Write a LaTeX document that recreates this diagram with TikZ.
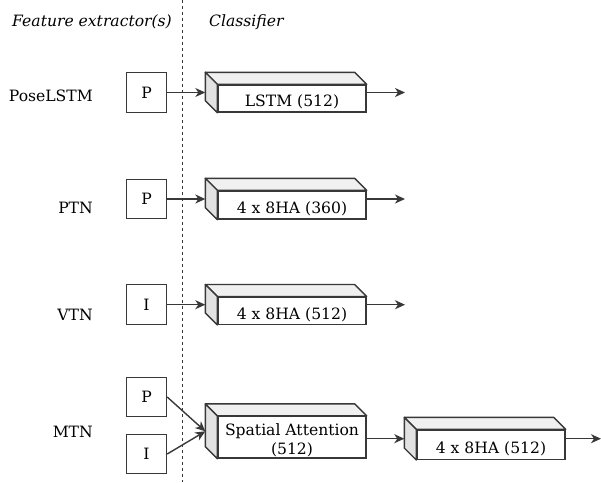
\documentclass[tikz,border=0pt]{standalone}
\usepackage{fontspec}
\setmainfont{DejaVu Serif}
\usetikzlibrary{arrows.meta,calc}
\definecolor{strk}{HTML}{383838}
\definecolor{topc}{HTML}{F0F0F0}
\definecolor{sidec}{HTML}{E2E2E2}
\tikzset{
  lbl/.style={inner sep=0pt, font=\fontsize{15.6}{19.7}\selectfont},
  fbox/.style={draw=strk, line width=1.4pt, fill=white, minimum width=40pt, minimum height=39.5pt, inner sep=0pt, font=\fontsize{15.6}{19.7}\selectfont},
  cfront/.style={draw=strk, line width=1.4pt, fill=white, minimum width=148pt, inner sep=0pt, font=\fontsize{15.6}{19.7}\selectfont},
  ctext/.style={text height=16.7pt, text depth=0pt},
  topface/.style={draw=strk, line width=1.4pt, fill=topc, line join=round},
  sideface/.style={draw=strk, line width=1.4pt, fill=sidec, line join=round},
  arr/.style={draw=strk, line width=1.4pt, -{Stealth[length=10pt,width=9pt,inset=3pt]}},
}
\newcommand{\cubeof}[1]{%
  \filldraw[topface] (#1.north west) -- ++(-12,-12) -- ($(#1.north east)+(-12,-12)$) -- (#1.north east) -- cycle;
  \filldraw[sideface] (#1.north west) -- ++(-12,-12) -- ($(#1.south west)+(-12,-12)$) -- (#1.south west) -- cycle;
  \coordinate (#1in) at ($(#1.west)+(-12,-6)$);
  \coordinate (#1out) at ($(#1.east)+(0,-6)$);
}
\begin{document}
\begin{tikzpicture}[x=1pt,y=-1pt]
\useasboundingbox (0,0) rectangle (601,482);

% headers
\node[lbl, anchor=base east, font=\fontsize{15.6}{19.7}\selectfont\itshape] (hfe) at (172,26.7) {Feature extractor(s)};
\node[lbl, anchor=base west, font=\fontsize{15.6}{19.7}\selectfont\itshape] (hcl) at (209,26.7) {Classifier};

% divider
\coordinate (dtop) at (182,0);
\coordinate (dbot) at (182,482);
\draw[strk, line width=0.9pt, dash pattern=on 3pt off 3pt] (dtop) -- (dbot);

% row labels
\node[lbl, anchor=base east] (l1) at (93,101) {PoseLSTM};
\node[lbl, anchor=base east] (l2) at (93,213) {PTN};
\node[lbl, anchor=base east] (l3) at (93,320) {VTN};
\node[lbl, anchor=base east] (l4) at (93,437.3) {MTN};

% feature boxes
\node[fbox] (p1) at (146.5,92.5) {P};
\node[fbox] (p2) at (146.5,199) {P};
\node[fbox] (i3) at (146.5,304.5) {I};
\node[fbox] (p4) at (146.5,397) {P};
\node[fbox] (i4) at (146.5,454) {I};

% cuboids
\node[cfront, ctext, minimum height=27pt] (ca) at (292,98.5) {LSTM (512)};
\cubeof{ca}
\node[cfront, ctext, minimum height=28pt] (cb) at (292,205) {4 x 8HA (360)};
\cubeof{cb}
\node[cfront, ctext, minimum height=27pt] (cc) at (292,310.7) {4 x 8HA (512)};
\cubeof{cc}
\node[cfront, minimum height=41.5pt, align=center] (cd) at (292,437.3) {\rule{0pt}{18pt}Spatial Attention\\(512)};
\cubeof{cd}
\node[cfront, ctext, minimum height=29.3pt] (ce) at (491,444.7) {4 x 8HA (512)};
\cubeof{ce}

% end points of outputs
\coordinate (oa) at (405,92.5);
\coordinate (ob) at (405,199);
\coordinate (oc) at (405,304.7);
\coordinate (oe) at (601,438.7);

% connectors
\draw[arr] (p1.east |- cain) -- (cain);
\draw[arr] (caout) -- (oa);
\draw[arr] (p2.east |- cbin) -- (cbin);
\draw[arr] (cbout) -- (ob);
\draw[arr] (i3.east |- ccin) -- (ccin);
\draw[arr] (ccout) -- (oc);
\draw[arr] (p4.east) -- (cdin);
\draw[arr] (i4.east) -- (cdin);
\draw[arr] (cd.east |- cein) -- (cein);
\draw[arr] (ceout) -- (oe);
\end{tikzpicture}
\end{document}
